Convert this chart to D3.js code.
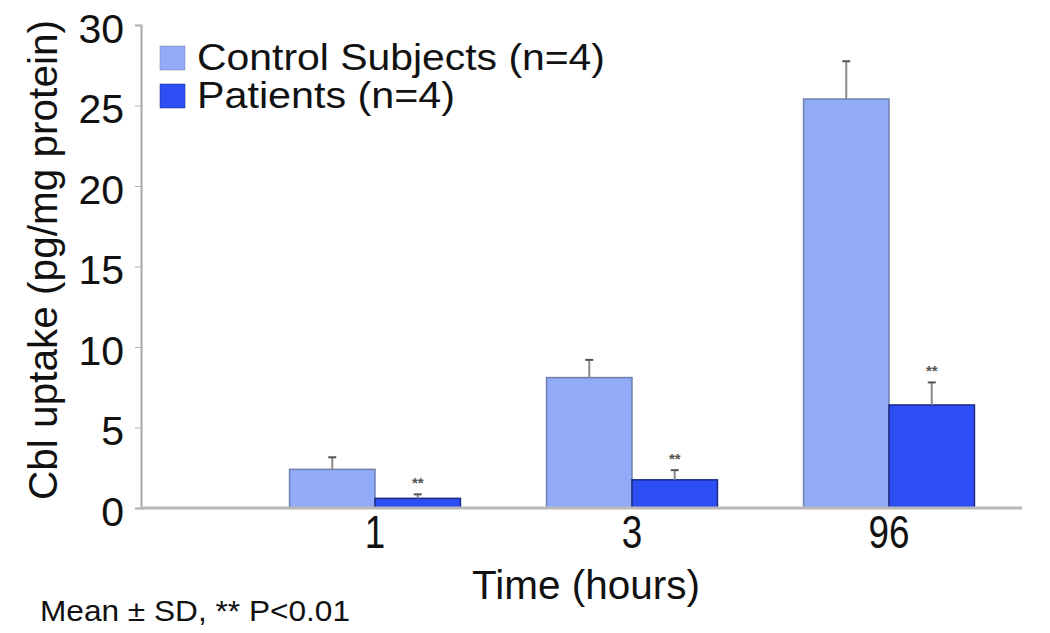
<!DOCTYPE html>
<html>
<head>
<meta charset="utf-8">
<script src="https://cdn.jsdelivr.net/npm/d3@7"></script>
<style>
  html, body { margin: 0; padding: 0; background: #fff; }
  svg text { font-family: "Liberation Sans", Arial, sans-serif; fill: #111; }
</style>
</head>
<body>
<svg id="chart" width="1050" height="633"></svg>
<script>
const categories = ["1", "3", "96"];
const seriesNames = ["Control Subjects (n=4)", "Patients (n=4)"];
const controlMeans = [2.4, 8.1, 25.4];
const controlSD = [0.75, 1.1, 2.35];
const patientMeans = [0.6, 1.75, 6.4];
const patientSD = [0.25, 0.6, 1.4];
const significant = ["**", "**", "**"];
const yTicks = [0, 5, 10, 15, 20, 25, 30];
const yLabel = "Cbl uptake (pg/mg protein)";
const xLabel = "Time (hours)";
const footnote = "Mean \u00b1 SD, ** P<0.01";

const fills = ["#91abf8", "#2d4ef5"];
const strokes = ["#6f7fae", "#1b2a86"];
const legendWidths = [408, 258];

const svg = d3.select("#chart");

const y = d3.scaleLinear().domain([0, 30]).range([508, 25]);
const x = d3.scaleBand().domain(categories).range([246.5, 1017.5])
  .paddingInner(0.335).paddingOuter(0.1675);
const xs = d3.scaleBand().domain([0, 1]).range([0, x.bandwidth()]);

const data = categories.map((c, i) => ({
  cat: c,
  vals: [
    { s: 0, m: controlMeans[i], sd: controlSD[i], sig: "" },
    { s: 1, m: patientMeans[i], sd: patientSD[i], sig: significant[i] }
  ]
}));

// y axis
const yAxis = d3.axisLeft(y).tickValues(yTicks).tickSize(6).tickPadding(11);
const gy = svg.append("g").attr("transform", "translate(141,0)").call(yAxis);
gy.select(".domain").attr("stroke", "#a8a8a8").attr("stroke-width", 2);
gy.selectAll(".tick line").attr("stroke", "#b0b0b0").attr("stroke-width", 1);
gy.selectAll(".tick text").attr("font-size", 41).attr("fill", "#111")
  .attr("font-family", "Liberation Sans, Arial, sans-serif")
  .attr("dy", "0.42em");

// bars
const groups = svg.append("g").selectAll("g").data(data).join("g")
  .attr("transform", d => `translate(${x(d.cat)},0)`);

groups.selectAll("rect").data(d => d.vals).join("rect")
  .attr("x", d => xs(d.s))
  .attr("width", xs.bandwidth())
  .attr("y", d => y(d.m))
  .attr("height", d => y(0) - y(d.m))
  .attr("fill", d => fills[d.s])
  .attr("stroke", d => strokes[d.s])
  .attr("stroke-width", 1.5);

// error bars
groups.selectAll("line.err").data(d => d.vals).join("line")
  .attr("class", "err")
  .attr("x1", d => xs(d.s) + xs.bandwidth() / 2)
  .attr("x2", d => xs(d.s) + xs.bandwidth() / 2)
  .attr("y1", d => y(d.m))
  .attr("y2", d => y(d.m + d.sd))
  .attr("stroke", "#8a8a8a").attr("stroke-width", 2);
groups.selectAll("line.cap").data(d => d.vals).join("line")
  .attr("class", "cap")
  .attr("x1", d => xs(d.s) + xs.bandwidth() / 2 - 4)
  .attr("x2", d => xs(d.s) + xs.bandwidth() / 2 + 4)
  .attr("y1", d => y(d.m + d.sd))
  .attr("y2", d => y(d.m + d.sd))
  .attr("stroke", "#555").attr("stroke-width", 2);
groups.selectAll("text.sig").data(d => d.vals.filter(v => v.sig)).join("text")
  .attr("class", "sig")
  .attr("x", d => xs(d.s) + xs.bandwidth() / 2)
  .attr("y", d => y(d.m + d.sd) - 6)
  .attr("text-anchor", "middle")
  .attr("font-size", 15).attr("font-weight", "bold")
  .style("fill", "#555")
  .text(d => d.sig);

// x axis baseline
svg.append("line").attr("x1", 141).attr("x2", 1022)
  .attr("y1", y(0)).attr("y2", y(0))
  .attr("stroke", "#b8b8b8").attr("stroke-width", 3);

// x tick labels
svg.append("g").selectAll("text").data(categories).join("text")
  .attr("text-anchor", "middle")
  .attr("font-size", 46)
  .attr("transform", d => `translate(${x(d) + x.bandwidth() / 2},548) scale(0.8,1)`)
  .text(d => d);

// axis labels
svg.append("text")
  .attr("x", 472).attr("y", 599)
  .attr("font-size", 41)
  .attr("textLength", 228).attr("lengthAdjust", "spacingAndGlyphs")
  .text(xLabel);

svg.append("text")
  .attr("font-size", 41)
  .attr("textLength", 480).attr("lengthAdjust", "spacingAndGlyphs")
  .attr("transform", "translate(57,500) rotate(-90)")
  .text(yLabel);

svg.append("text")
  .attr("x", 40).attr("y", 621)
  .attr("font-size", 30)
  .attr("textLength", 310).attr("lengthAdjust", "spacingAndGlyphs")
  .text(footnote);

// legend
const legend = svg.append("g").selectAll("g").data(seriesNames).join("g")
  .attr("transform", (d, i) => `translate(160,${46 + i * 38})`);
legend.append("rect").attr("width", 25).attr("height", 24)
  .attr("fill", (d, i) => fills[i]).attr("stroke", (d, i) => strokes[i]).attr("stroke-width", 0.5);
legend.append("text").attr("x", 37).attr("y", 24)
  .attr("font-size", 36)
  .attr("textLength", (d, i) => legendWidths[i]).attr("lengthAdjust", "spacingAndGlyphs")
  .text(d => d);
</script>
</body>
</html>
